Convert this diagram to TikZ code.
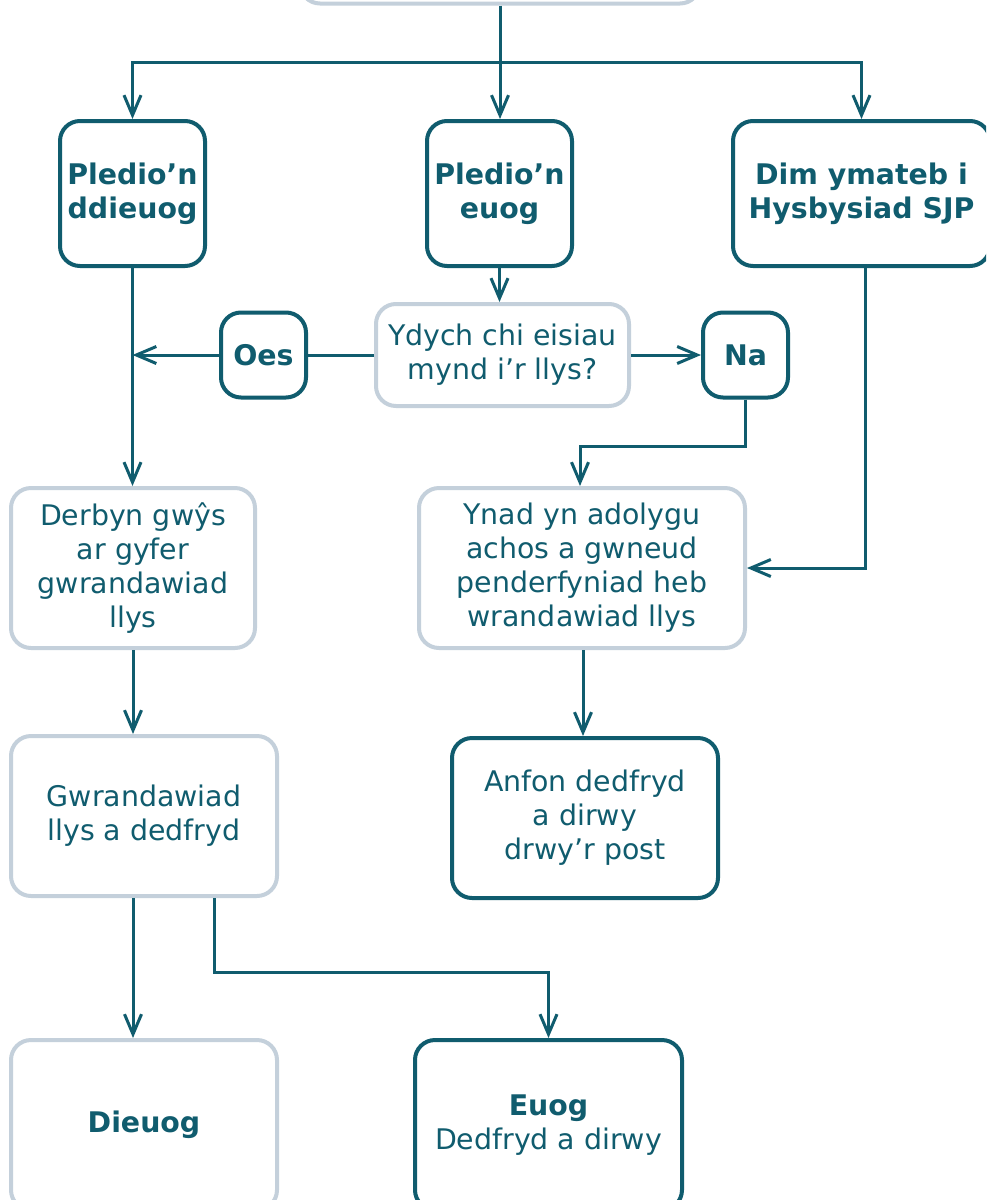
\documentclass[tikz,border=0pt]{standalone}
\usepackage{fontspec}
\setmainfont{DejaVu Sans}
\usetikzlibrary{arrows.meta}
\definecolor{teal}{HTML}{105C6E}
\definecolor{lightb}{HTML}{C4D0DB}
\tikzset{
  box/.style={rounded corners=10pt, align=center, text=teal, inner sep=2pt,
    font=\fontsize{14.2}{17}\selectfont},
  darkbox/.style={box, draw=teal, line width=2pt},
  lightbox/.style={box, draw=lightb, line width=2pt},
  conn/.style={draw=teal, line width=1.5pt},
  arr/.style={conn, -{Straight Barb[length=10pt,width=8.5pt,line width=1.5pt]}},
}
\begin{document}
\begin{tikzpicture}[x=0.5pt,y=-0.5pt]
\useasboundingbox (0,0) rectangle (986,1200);
\clip (0,0) rectangle (986,1200);
\fill[white] (0,0) rectangle (986,1200);
% nodes
\node[lightbox, minimum width=200pt, minimum height=31.5pt] (top) at (500,-28) {};
\node[darkbox, minimum width=72.5pt, minimum height=72.5pt] (pdd) at (132.5,193.5) {\bfseries Pledio’n\\\bfseries ddieuog};
\node[darkbox, minimum width=72.5pt, minimum height=72.5pt] (peu) at (499.5,193.5) {\bfseries Pledio’n\\\bfseries euog};
\node[darkbox, minimum width=128.5pt, minimum height=72.5pt] (dim) at (861.5,193.5) {\bfseries Dim ymateb i\\\bfseries Hysbysiad SJP};
\node[lightbox, minimum width=126.5pt, minimum height=51pt] (q) at (502.5,355) {Ydych chi eisiau\\mynd i’r llys?};
\node[darkbox, minimum width=42.5pt, minimum height=42.5pt] (oes) at (263.5,355) {\bfseries Oes};
\node[darkbox, minimum width=42.5pt, minimum height=42.5pt] (na) at (745.5,355) {\bfseries Na};
\node[lightbox, minimum width=122pt, minimum height=80pt] (derbyn) at (133,568) {Derbyn gwŷs\\ar gyfer\\gwrandawiad\\llys};
\node[lightbox, minimum width=163pt, minimum height=80pt] (ynad) at (582,568) {Ynad yn adolygu\\achos a gwneud\\penderfyniad heb\\wrandawiad llys};
\node[lightbox, minimum width=133pt, minimum height=80pt] (gwr) at (144,816) {Gwrandawiad\\llys a dedfryd};
\node[darkbox, minimum width=133pt, minimum height=80pt] (anfon) at (585,818) {Anfon dedfryd\\a dirwy\\drwy’r post};
\node[lightbox, minimum width=133pt, minimum height=85pt] (dieuog) at (144,1125) {\bfseries Dieuog};
\node[darkbox, minimum width=133.5pt, minimum height=85pt] (euog) at (548.5,1125) {\bfseries Euog\\Dedfryd a dirwy};
% connectors
\coordinate (j) at (top.south |- 0,62);
\draw[arr] (top.south) -- (top.south |- peu.north);
\draw[arr] (j) -| (pdd.north);
\draw[arr] (j) -| (dim.north);
\draw[arr] (peu.south) -- (peu.south |- q.north);
\draw[conn] (q.west) -- (oes.east);
\draw[arr] (oes.west) -- (pdd.south |- oes.west);
\draw[arr] (pdd.south) -- (pdd.south |- derbyn.north);
\draw[arr] (q.east) -- (na.west);
\draw[arr] (na.south) -- ++(0,47) -| ([xshift=-1pt]ynad.north);
\draw[arr] ([xshift=2pt]dim.south) |- (ynad.east);
\draw[arr] ([xshift=0.5pt]ynad.south) -- ([xshift=0.5pt]ynad.south |- anfon.north);
\draw[arr] (derbyn.south) -- (derbyn.south |- gwr.north);
\draw[arr] (derbyn.south |- gwr.south) -- (derbyn.south |- dieuog.north);
\draw[arr] ([xshift=35pt]gwr.south) -- ++(0,74) -| (euog.north);
\end{tikzpicture}
\end{document}
